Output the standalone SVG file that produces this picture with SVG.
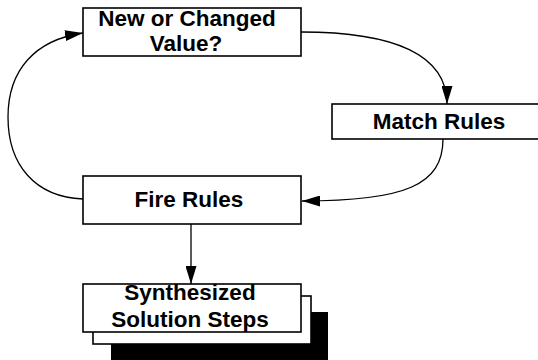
<svg xmlns="http://www.w3.org/2000/svg" width="538" height="360" viewBox="0 0 538 360">
  <style>
    .box { fill: #ffffff; stroke: #000000; stroke-width: 1.6; }
    .lbl { font-family: "Liberation Sans", Arial, sans-serif; font-weight: bold; font-size: 22.5px; fill: #000000; text-anchor: middle; }
    .wire { fill: none; stroke: #000000; stroke-width: 1.3; }
  </style>
  <defs>
    <marker id="arrow" viewBox="0 0 18 11" refX="18" refY="5.5" markerWidth="18" markerHeight="11" markerUnits="userSpaceOnUse" orient="auto">
      <path d="M0,0 L18,5.5 L0,11 Z" fill="#000000"/>
    </marker>
  </defs>
  <rect width="538" height="360" fill="#ffffff"/>

  <!-- connectors -->
  <g id="connectors">
    <path class="wire" d="M301,32 C395,32 447,55 447,104" marker-end="url(#arrow)"/>
    <path class="wire" d="M443,139 C443,185 405,201 302,201" marker-end="url(#arrow)"/>
    <path class="wire" d="M83,199 C35,197 8,165 8,117 C8,70 35,40 83,33" marker-end="url(#arrow)"/>
    <path class="wire" d="M191,224 L191,284" marker-end="url(#arrow)"/>
  </g>

  <!-- nodes -->
  <g id="node-new-value">
    <rect class="box" x="83" y="8" width="218" height="48"/>
    <text class="lbl" x="187" y="25.5">New or Changed</text>
    <text class="lbl" x="186" y="51">Value?</text>
  </g>
  <g id="node-match-rules">
    <rect class="box" x="332" y="104" width="215" height="35"/>
    <text class="lbl" x="439" y="129">Match Rules</text>
  </g>
  <g id="node-fire-rules">
    <rect class="box" x="83" y="176" width="218" height="48"/>
    <text class="lbl" x="189" y="207">Fire Rules</text>
  </g>
  <g id="node-solution-steps">
    <rect x="111" y="312" width="217" height="50" fill="#000000"/>
    <rect class="box" x="93" y="296" width="218" height="48"/>
    <rect class="box" x="83" y="284" width="218" height="48"/>
    <text class="lbl" x="190" y="300">Synthesized</text>
    <text class="lbl" x="190" y="327">Solution Steps</text>
  </g>
</svg>
